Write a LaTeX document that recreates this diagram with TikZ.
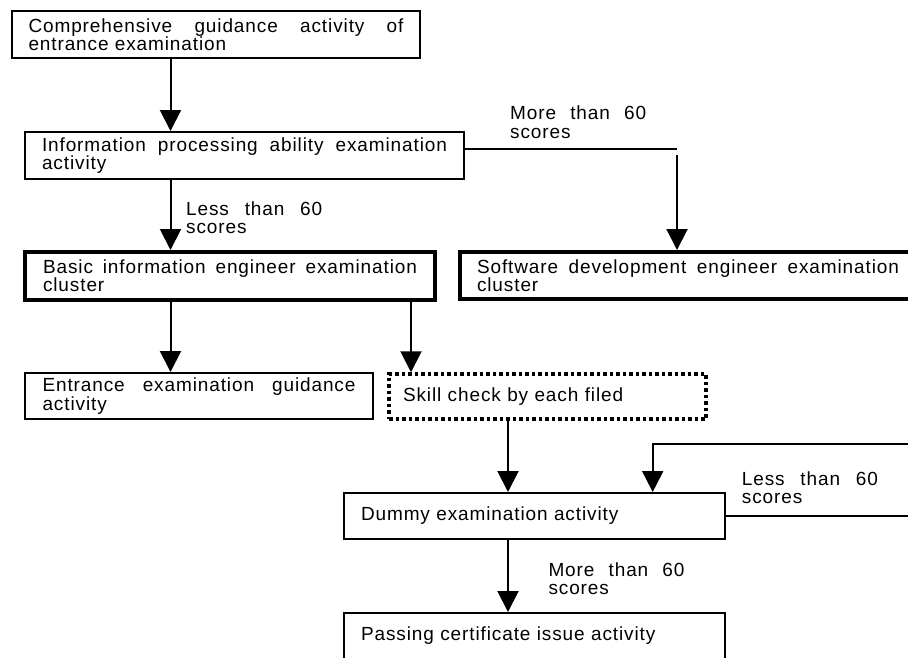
\documentclass[tikz,border=0pt]{standalone}
\usepackage{fontspec}
\setmainfont{Liberation Sans}[LetterSpace=4.7]
\usetikzlibrary{arrows.meta,calc}
\newcommand\chartfont{\fontsize{19}{18.3}\selectfont}
\begin{document}
\begin{tikzpicture}[x=1pt,y=-1pt,
  box/.style={draw, line width=2pt, rectangle, inner xsep=17pt, inner ysep=0pt,
    font=\chartfont, align=justify},
  thickbox/.style={box, line width=4pt},
  dotbox/.style={box, line width=3.5pt, dash pattern=on 3.5pt off 3pt},
  arr/.style={line width=2pt, -{Triangle[width=21pt,length=21pt]}},
  lbl/.style={anchor=north west, inner sep=0pt, text width=136pt,
    align=justify, font=\chartfont}]
\useasboundingbox (0,0) rectangle (908,657);
\clip (0,0) rectangle (908,657);

% process boxes
\node[box, minimum width=408, minimum height=47, text width=375, inner xsep=16.5pt]
  (b1) at (216,34.5) {Comprehensive guidance activity of\linebreak entrance examination};
\node[box, minimum width=439, minimum height=47, text width=405]
  (b2) at (244.5,155.5) {Information processing ability examination\linebreak activity};
\node[thickbox, minimum width=410, minimum height=48, text width=374, inner xsep=18pt]
  (basic) at (230,276) {Basic information engineer examination\linebreak cluster};
\node[thickbox, minimum width=456, minimum height=47, text width=422]
  (sw) at (688,275.5) {Software development engineer examination\linebreak cluster};
\node[box, minimum width=348, minimum height=46, text width=313, inner xsep=17.5pt]
  (ent) at (199,396) {Entrance examination guidance\linebreak activity};
\node[dotbox, minimum width=317, minimum height=45, text width=289, inner xsep=14pt, align=left]
  (skill) at (547.5,396.5) {Skill check by each filed};
\node[box, minimum width=381, minimum height=46, text width=347, align=left]
  (dummy) at (534.5,516) {Dummy examination activity};
\node[box, minimum width=381, minimum height=46, text width=347, align=left]
  (pass) at (534.5,636) {Passing certificate issue activity};

% connector columns and bends
\coordinate (xa) at (170.5,0);
\coordinate (xb) at (411,0);
\coordinate (xc) at (508,0);
\coordinate (swA) at (677,149);
\coordinate (swB) at (677,155);
\coordinate (loopR) at (940,444);
\coordinate (loopIn) at (652.7,444);

% connectors
\draw[arr] (xa |- b1.south) -- (xa |- b2.north);
\draw[arr] (xa |- b2.south) -- (xa |- basic.north);
\draw[line width=1.5pt] (swA -| b2.east) -- (swA);
\draw[arr] (swB) -- (swB |- sw.north);
\draw[arr] (xa |- basic.south) -- (xa |- ent.north);
\draw[arr] (xb |- basic.south) -- (xb |- skill.north);
\draw[arr] (xc |- skill.south) -- (xc |- dummy.north);
\draw[arr] (dummy.east) -| (loopR) -- (loopIn) -- (loopIn |- dummy.north);
\draw[arr] (xc |- dummy.south) -- (xc |- pass.north);

% branch labels
\node[lbl] (l1) at (510,106) {More than 60\linebreak scores};
\node[lbl] (l2) at (186,201.5) {Less than 60\linebreak scores};
\node[lbl] (l3) at (741.7,471.5) {Less than 60\linebreak scores};
\node[lbl] (l4) at (548.3,562.2) {More than 60\linebreak scores};
\end{tikzpicture}
\end{document}
